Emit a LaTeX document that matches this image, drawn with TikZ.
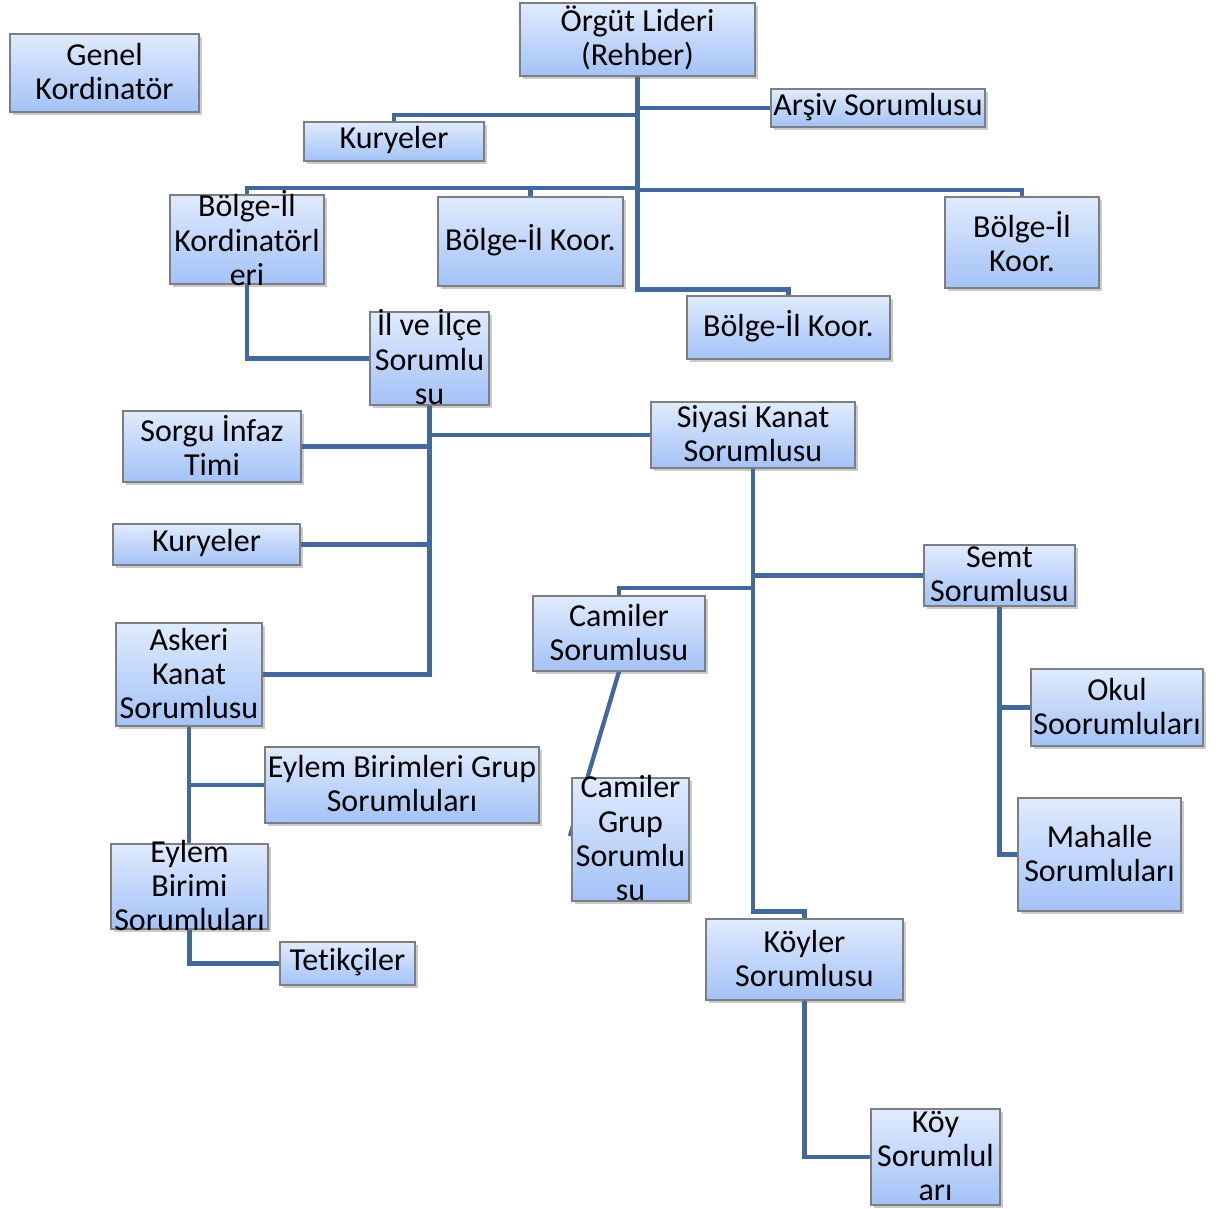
\documentclass[tikz,border=0pt]{standalone}
\usepackage{fontspec}
\setmainfont[Ligatures=NoCommon]{Carlito}
\usetikzlibrary{shadows,backgrounds}
\definecolor{boxtop}{RGB}{224,235,253}
\definecolor{boxbot}{RGB}{163,194,247}
\definecolor{boxborder}{RGB}{125,125,130}
\definecolor{conn}{RGB}{66,104,156}
\tikzset{
  box/.style={draw=boxborder, line width=0.9pt, top color=boxtop, bottom color=boxbot, inner sep=0pt,
    drop shadow={shadow xshift=2pt, shadow yshift=-2.5pt, opacity=0.35, fill=black!60}},
  txt/.style={align=center, inner sep=0pt, font=\fontsize{24}{25.6}\selectfont, text=black},
  conline/.style={draw=conn, line width=3.2pt}
}
\newcommand\bx[6]{%
  \pgfmathsetmacro\bw{(#4-#2)*0.75}\pgfmathsetmacro\bh{(#5-#3)*0.75}%
  \node[box, minimum width=\bw pt, minimum height=\bh pt, label={[txt,yshift=1pt]center:{#6}}] (#1) at ({(#2+#4)/2},{(#3+#5)/2}) {};}
\begin{document}
\begin{tikzpicture}[x=0.75pt,y=-0.75pt]
\useasboundingbox (0,0) rectangle (1222,1209);
\bx{genel}{10}{34}{199}{112}{Genel\\Kordinatör}
\bx{org}{520}{3}{755}{76}{Örgüt Lideri\\(Rehber)}
\bx{arsiv}{771}{89}{985}{127}{Arşiv Sorumlusu}
\bx{kur1}{304}{122}{484}{161}{Kuryeler}
\bx{bk}{170}{195}{324}{284}{Bölge-İl\\Kordinatörl\\eri}
\bx{bm}{438}{197}{623}{286}{Bölge-İl Koor.}
\bx{br}{945}{197}{1099}{288}{Bölge-İl\\Koor.}
\bx{blow}{687}{296}{890}{359}{Bölge-İl Koor.}
\bx{ilce}{370}{312}{489}{405}{İl ve İlçe\\Sorumlu\\su}
\bx{sorgu}{123}{411}{301}{482}{Sorgu İnfaz\\Timi}
\bx{siyasi}{651}{402}{855}{468}{Siyasi Kanat\\Sorumlusu}
\bx{kur2}{113}{524}{300}{565}{Kuryeler}
\bx{semt}{924}{545}{1075}{606}{Semt\\Sorumlusu}
\bx{cam}{533}{596}{705}{671}{Camiler\\Sorumlusu}
\bx{askeri}{116}{623}{262}{726}{Askeri\\Kanat\\Sorumlusu}
\bx{okul}{1031}{669}{1203}{746}{Okul\\Soorumluları}
\bx{ebg}{265}{747}{539}{823}{Eylem Birimleri Grup\\Sorumluları}
\bx{camg}{572}{778}{689}{901}{Camiler\\Grup\\Sorumlu\\su}
\bx{mah}{1018}{798}{1181}{911}{Mahalle\\Sorumluları}
\bx{eb}{111}{844}{268}{929}{Eylem\\Birimi\\Sorumluları}
\bx{tet}{280}{942}{415}{985}{Tetikçiler}
\bx{koyler}{706}{919}{903}{1000}{Köyler\\Sorumlusu}
\bx{koy}{871}{1109}{1000}{1205}{Köy\\Sorumlul\\arı}
\coordinate (busL) at (637.5,188);
\coordinate (busR) at (637.5,190);
\coordinate (kj) at (637.5,115);
\coordinate (cj) at (753,588);
\coordinate (camend) at (570,836);
\begin{scope}[on background layer]
\draw[conline] (org.south) -- ++(0,213) -| (blow.north);
\draw[conline] (org.south |- arsiv.west) -- (arsiv.west);
\draw[conline] (kj) -| (kur1.north);
\draw[conline] (bk.north) |- (busL);
\draw[conline] (bm.north) -- (bm.north |- busL);
\draw[conline] (busR) -| (br.north);
\draw[conline] (bk.south) |- (ilce.west);
\draw[conline] (ilce.south) |- (askeri.east);
\draw[conline] (ilce.south |- siyasi.west) -- (siyasi.west);
\draw[conline] (ilce.south |- sorgu.east) -- (sorgu.east);
\draw[conline] (ilce.south |- kur2.east) -- (kur2.east);
\draw[conline] (siyasi.south) -- ++(0,443) -| (koyler.north);
\draw[conline] (siyasi.south |- semt.west) -- (semt.west);
\draw[conline] (cj) -| (cam.north);
\draw[conline] (cam.south) -- (camend);
\draw[conline] (semt.south) |- (mah.west);
\draw[conline] (semt.south |- okul.west) -- (okul.west);
\draw[conline] (askeri.south) -- (askeri.south |- eb.north);
\draw[conline] (askeri.south |- ebg.west) -- (ebg.west);
\draw[conline] (eb.south) |- (tet.west);
\draw[conline] (koyler.south) |- (koy.west);
\end{scope}
\end{tikzpicture}
\end{document}
